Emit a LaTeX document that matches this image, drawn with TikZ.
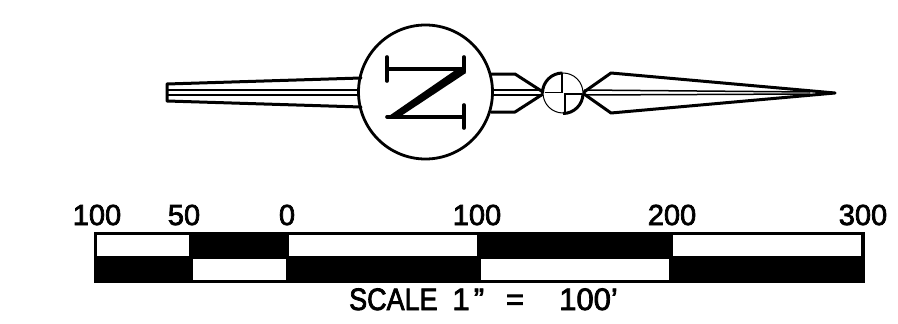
\documentclass[tikz,border=0pt]{standalone}
\usepackage{xcolor}
\usepackage{fontspec}
\setmainfont{Liberation Sans}
\newfontfamily\scalefont[FakeBold=2.5]{Liberation Sans}
\tikzset{
  outline/.style={line width=3pt, line join=round, line cap=round},
  letterline/.style={line width=3.6pt, line join=round, line cap=round},
  thinline/.style={line width=1.5pt},
  scalelabel/.style={font=\scalefont\fontsize{29}{29}\selectfont, anchor=base, inner sep=0pt},
  captionlabel/.style={font=\scalefont\fontsize{31}{31}\selectfont, anchor=base, inner sep=0pt},
}
\begin{document}
\begin{tikzpicture}[x=1pt,y=-1pt]
  \useasboundingbox (0,0) rectangle (898,324);

  % tail and point of the arrow
  \draw[outline] (361,78) -- (167,84) -- (167,101) -- (361,107);
  \draw[thinline] (167,90) -- (360,90);
  \draw[thinline] (167,95) -- (360,95);
  \draw[outline] (491,74) -- (515,74) -- (543,92);
  \draw[outline] (491,112) -- (515,112) -- (543,94);
  \draw[outline] (584,92) -- (611,73) -- (835,93) -- (611,113) -- (584,94);
  \draw[thinline] (491,90) -- (543,90);
  \draw[thinline] (491,95) -- (543,95);
  \draw[thinline] (584,90) -- (810,92);
  \draw[thinline] (584,95) -- (810,94);

  % north circle and letter
  \node[circle, draw, line width=2.8pt, minimum size=134pt, inner sep=0pt] (northcircle) at (425.5,92) {};
  \draw[letterline] (387,57) -- (387,81);
  \draw[letterline] (387,69) -- (464,69);
  \draw[letterline] (464,57) -- (464,72);
  \draw[letterline] (464,105) -- (464,128);
  \draw[letterline] (387,117) -- (464,117);
  \fill (457,69) -- (466,73) -- (401,116) -- (386,118) -- cycle;

  % small circle with quadrants
  \node[circle, draw, line width=1pt, fill=white, minimum size=40pt, inner sep=0pt] (smallcircle) at (563,93) {};
  \draw[thinline] (562,73) -- (562,92.5) -- (545,92.5);
  \draw[thinline] (565,113) -- (565,94) -- (582,94);
  \draw[line width=3pt] (smallcircle.west) arc[start angle=180, delta angle=90, radius=20];
  \draw[line width=3pt] (smallcircle.south) arc[start angle=90, delta angle=-90, radius=20];

  % scale bar
  \fill (94,232) rectangle (865,283);
  \foreach \xa/\xb in {97/189, 289/477, 673/861}
    \fill[white] (\xa,235) rectangle (\xb,256);
  \foreach \xa/\xb in {193/286, 481/669}
    \fill[white] (\xa,259) rectangle (\xb,280);

  \foreach \xpos/\val in {97/100, 184/50, 287/0, 477/100, 672/200, 863/300}
    \node[scalelabel] (label\xpos) at (\xpos,225) {\val};
  \node[captionlabel, anchor=base west, xscale=.87] (scaletext) at (349,310) {SCALE};
  \node[captionlabel, anchor=base] (scaleone) at (461,310) {1};
  \node[captionlabel, anchor=base] (scaleinch) at (479,310) {”};
  \node[captionlabel, anchor=base] (scaleeq) at (515,310) {=};
  \node[captionlabel, anchor=base west] (scalefeet) at (559,310) {100’};
\end{tikzpicture}
\end{document}
